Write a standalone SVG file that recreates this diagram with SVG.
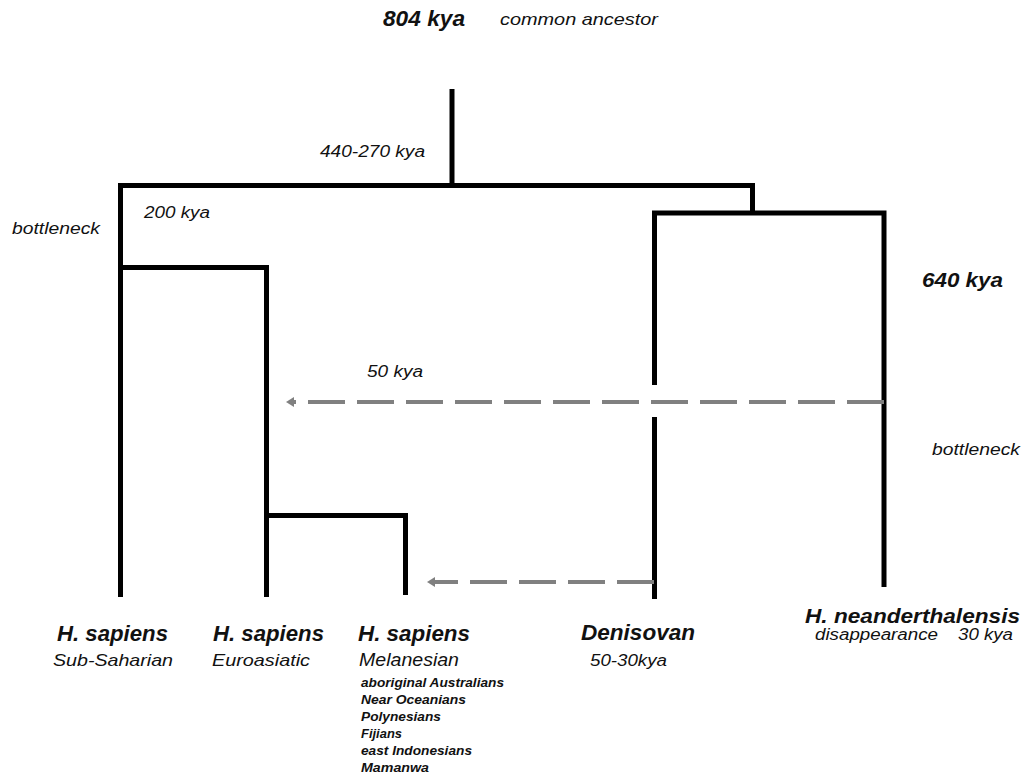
<svg xmlns="http://www.w3.org/2000/svg" width="1027" height="776" viewBox="0 0 1027 776">
<defs>
<style>
.t{font-family:"Liberation Sans",Arial,sans-serif;fill:#111;font-style:italic}
.b{font-weight:bold}
.tree{fill:none;stroke:#000;stroke-width:5;stroke-linecap:butt;stroke-linejoin:miter}
.flow{fill:none;stroke:#808080;stroke-width:4;stroke-dasharray:37 12}
</style>
<marker id="ah" markerUnits="userSpaceOnUse" markerWidth="12" markerHeight="12" viewBox="0 0 12 12" refX="2" refY="6" orient="auto">
<path d="M0,1 L8,6 L0,11 Z" fill="#808080"/>
</marker>
</defs>
<rect width="1027" height="776" fill="#fff"/>

<g id="tree">
<path class="tree" d="M452,89 V185"/>
<path class="tree" d="M120.5,597 V185.5 H752.5 V213"/>
<path class="tree" d="M654.5,385 V213 H884 V587"/>
<path class="tree" d="M654.5,417 V599"/>
<path class="tree" d="M120.5,267.5 H266.5 V597"/>
<path class="tree" d="M266.5,515.5 H405.5 V595"/>
</g>

<g id="connectors">
<path class="flow" d="M884,402 H292" marker-end="url(#ah)"/>
<path class="flow" d="M654,582 H433" marker-end="url(#ah)"/>
</g>

<g id="top-labels">
<text class="t b" x="383" y="26" font-size="22" textLength="82" lengthAdjust="spacingAndGlyphs">804 kya</text>
<text class="t" x="500" y="25" font-size="17" textLength="158" lengthAdjust="spacingAndGlyphs">common ancestor</text>
<text class="t" x="320" y="157" font-size="16" textLength="105" lengthAdjust="spacingAndGlyphs">440-270 kya</text>
<text class="t" x="144" y="218" font-size="16" textLength="66" lengthAdjust="spacingAndGlyphs">200 kya</text>
<text class="t" x="12" y="234" font-size="16" textLength="88" lengthAdjust="spacingAndGlyphs">bottleneck</text>
<text class="t b" x="922" y="287" font-size="20" textLength="81" lengthAdjust="spacingAndGlyphs">640 kya</text>
<text class="t" x="367" y="377" font-size="16" textLength="56" lengthAdjust="spacingAndGlyphs">50 kya</text>
<text class="t" x="932" y="455" font-size="16" textLength="88" lengthAdjust="spacingAndGlyphs">bottleneck</text>
</g>

<g id="node-subsaharian">
<text class="t b" x="57" y="641" font-size="22" textLength="111" lengthAdjust="spacingAndGlyphs">H. sapiens</text>
<text class="t" x="53" y="666" font-size="17" textLength="120" lengthAdjust="spacingAndGlyphs">Sub-Saharian</text>
</g>

<g id="node-euroasiatic">
<text class="t b" x="213" y="641" font-size="22" textLength="111" lengthAdjust="spacingAndGlyphs">H. sapiens</text>
<text class="t" x="212" y="666" font-size="17" textLength="98" lengthAdjust="spacingAndGlyphs">Euroasiatic</text>
</g>

<g id="node-melanesian">
<text class="t b" x="358" y="641" font-size="22" textLength="112" lengthAdjust="spacingAndGlyphs">H. sapiens</text>
<text class="t" x="359" y="666" font-size="18" textLength="100" lengthAdjust="spacingAndGlyphs">Melanesian</text>
<text class="t b" x="361" y="687" font-size="13" textLength="143" lengthAdjust="spacingAndGlyphs">aboriginal Australians</text>
<text class="t b" x="361" y="704" font-size="13" textLength="105" lengthAdjust="spacingAndGlyphs">Near Oceanians</text>
<text class="t b" x="361" y="721" font-size="13" textLength="80" lengthAdjust="spacingAndGlyphs">Polynesians</text>
<text class="t b" x="361" y="738" font-size="13" textLength="41" lengthAdjust="spacingAndGlyphs">Fijians</text>
<text class="t b" x="361" y="755" font-size="13" textLength="111" lengthAdjust="spacingAndGlyphs">east Indonesians</text>
<text class="t b" x="361" y="772" font-size="13" textLength="68" lengthAdjust="spacingAndGlyphs">Mamanwa</text>
</g>

<g id="node-denisovan">
<text class="t b" x="581" y="640" font-size="22" textLength="114" lengthAdjust="spacingAndGlyphs">Denisovan</text>
<text class="t" x="590" y="666" font-size="16" textLength="77" lengthAdjust="spacingAndGlyphs">50-30kya</text>
</g>

<g id="node-neanderthal">
<text class="t b" x="805" y="623" font-size="21" textLength="215" lengthAdjust="spacingAndGlyphs">H. neanderthalensis</text>
<text class="t" x="815" y="640" font-size="16" textLength="123" lengthAdjust="spacingAndGlyphs">disappearance</text>
<text class="t" x="958" y="640" font-size="16" textLength="55" lengthAdjust="spacingAndGlyphs">30 kya</text>
</g>
</svg>
